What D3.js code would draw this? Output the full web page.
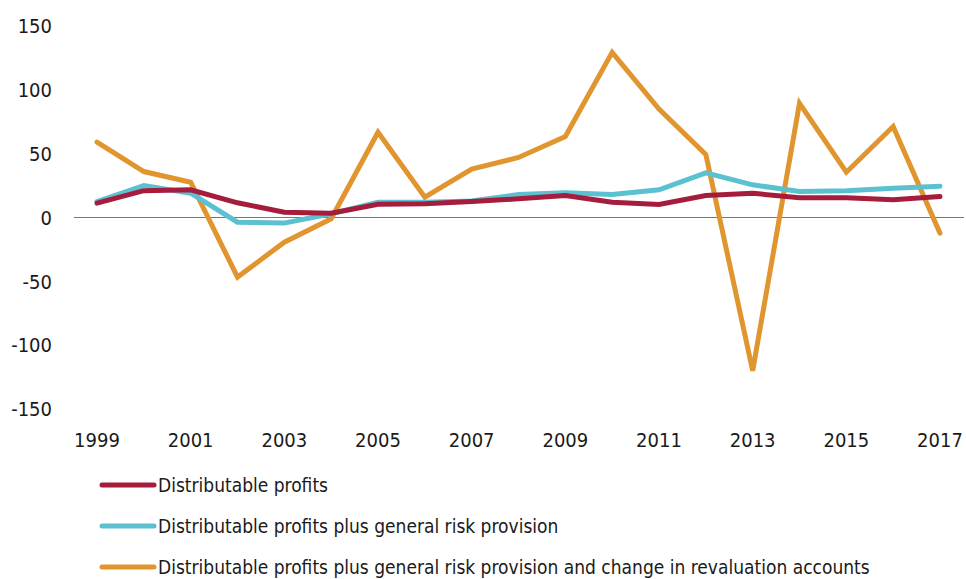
<!DOCTYPE html>
<html>
<head>
<meta charset="utf-8">
<script src="https://cdn.jsdelivr.net/npm/d3@7"></script>
<style>
  body { margin: 0; background: #fff; }
  text { font-family: 'DejaVu Sans Condensed', 'DejaVu Sans', sans-serif; fill: #1a1a1a; }
</style>
</head>
<body>
<svg id="container" width="966" height="579"></svg>
<script>
const years = d3.range(1999, 2018)
const yTicks = [150, 100, 50, 0, -50, -100, -150]
const xTicks = [1999, 2001, 2003, 2005, 2007, 2009, 2011, 2013, 2015, 2017]

const profits = [11.2, 21, 21.7, 11.5, 4.2, 3.4, 10.4, 10.7, 12.5, 14.6, 17.2, 12, 10.2, 17.2, 19, 15.4, 15.4, 13.9, 16.4]
const withRisk = [12.5, 25, 19, -3.7, -4.4, 2.9, 12, 12, 13, 18, 19.3, 18, 21.7, 35, 25.6, 20.4, 21, 23, 24.5]
const withReval = [59, 36, 27.6, -46.7, -19.3, -1, 66.8, 15.9, 38, 47, 63.4, 129.4, 85, 49.3, -120, 89.5, 35.5, 71.3, -12.3]

const seriesNames = [
  'Distributable profits',
  'Distributable profits plus general risk provision',
  'Distributable profits plus general risk provision and change in revaluation accounts'
]
const colors = ['#a51c3c', '#5bc0d0', '#e0952f']

const svg = d3.select('#container')

const x = d3.scaleLinear().domain([1999, 2017]).range([97, 940])
const y = d3.scaleLinear().domain([-150, 150]).range([409, 26])

// y labels
svg.append('g')
  .selectAll('text')
  .data(yTicks)
  .enter()
  .append('text')
  .attr('x', 52)
  .attr('y', (d) => y(d))
  .attr('dy', '0.36em')
  .attr('text-anchor', 'end')
  .style('font-size', '20px')
  .text((d) => d)

// x labels
svg.append('g')
  .selectAll('text')
  .data(xTicks)
  .enter()
  .append('text')
  .attr('x', (d) => x(d))
  .attr('y', 447)
  .attr('text-anchor', 'middle')
  .style('font-size', '20px')
  .text((d) => d)

// zero line
svg.append('line')
  .attr('x1', 74)
  .attr('x2', 964)
  .attr('y1', y(0))
  .attr('y2', y(0))
  .attr('stroke', '#777')
  .attr('stroke-width', 1)

const line = d3.line()
  .x((d, i) => x(years[i]))
  .y((d) => y(d))

const allSeries = [profits, withRisk, withReval]

svg.append('g')
  .selectAll('path')
  .data(allSeries.slice().reverse())
  .enter()
  .append('path')
  .attr('d', line)
  .attr('fill', 'none')
  .attr('stroke', (d, i) => colors[2 - i])
  .attr('stroke-width', 5)
  .attr('stroke-linejoin', 'miter')
  .attr('stroke-linecap', 'round')

// legend
const legend = svg.append('g')
  .selectAll('g')
  .data(seriesNames)
  .enter()
  .append('g')
  .attr('transform', (d, i) => `translate(0, ${485 + i * 41})`)

legend.append('line')
  .attr('x1', 102)
  .attr('x2', 154)
  .attr('stroke', (d, i) => colors[i])
  .attr('stroke-width', 5)
  .attr('stroke-linecap', 'round')

legend.append('text')
  .attr('x', 158)
  .attr('dy', '0.36em')
  .style('font-size', '19px')
  .text((d) => d)
</script>
</body>
</html>
